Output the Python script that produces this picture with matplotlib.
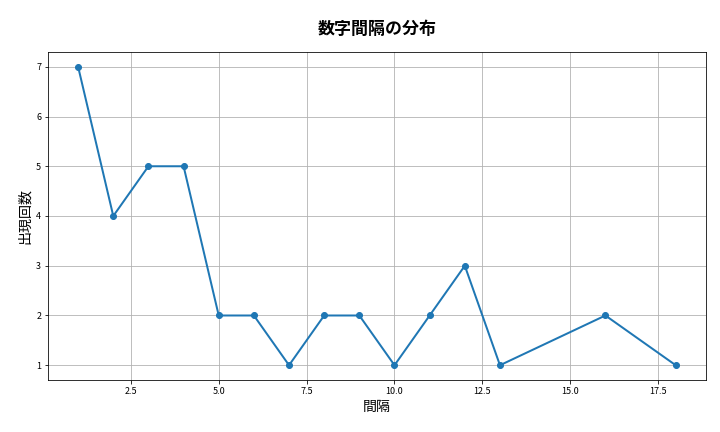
import matplotlib; matplotlib.use("Agg")
import matplotlib.pyplot as plt

plt.rcParams['font.family'] = ['Noto Sans CJK JP', 'DejaVu Sans']

gaps = [1, 2, 3, 4, 5, 6, 7, 8, 9, 10, 11, 12, 13, 16, 18]
counts = [7, 4, 5, 5, 2, 2, 1, 2, 2, 1, 2, 3, 1, 2, 1]

fig, ax = plt.subplots(figsize=(10, 6), dpi=72)
fig.subplots_adjust(left=0.067, right=0.98, top=0.88, bottom=0.12)
ax.plot(gaps, counts, marker="o", lw=2, color="#1f77b4")
ax.grid(True, color="#b0b0b0")
ax.set_title("数字間隔の分布", fontsize=17, fontweight="bold", pad=18)
ax.set_xlabel("間隔", fontsize=14)
ax.set_ylabel("出現回数", fontsize=14)
ax.tick_params(labelsize=9)
fig.savefig("out.png", dpi=72)
